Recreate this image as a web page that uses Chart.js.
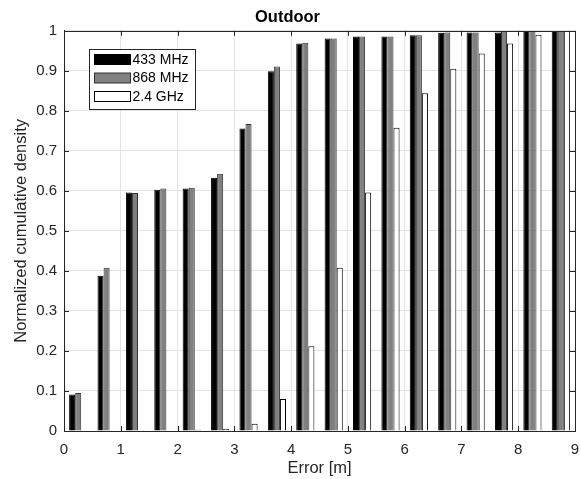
<!DOCTYPE html>
<html>
<head>
<meta charset="utf-8">
<script src="https://cdn.jsdelivr.net/npm/chart.js@4/dist/chart.umd.min.js"></script>
<style>
  html, body { margin: 0; padding: 0; background: #fff; }
  #wrap { width: 581px; height: 479px; }
</style>
</head>
<body>
<div id="wrap"><canvas id="cdfChart" width="581" height="479"></canvas></div>
<script>
// bin centres on the error axis [m]
const errorBins = [0.25, 0.75, 1.25, 1.75, 2.25, 2.75, 3.25, 3.75, 4.25, 4.75, 5.25, 5.75, 6.25, 6.75, 7.25, 7.75, 8.25, 8.75];
const mhz433 = [0.091, 0.388, 0.596, 0.603, 0.606, 0.633, 0.756, 0.899, 0.968, 0.981, 0.986, 0.986, 0.989, 0.995, 0.996, 0.996, 1.0, 1.0];
const mhz868 = [0.095, 0.408, 0.595, 0.606, 0.608, 0.643, 0.767, 0.911, 0.970, 0.981, 0.986, 0.986, 0.989, 0.996, 0.996, 1.0, 1.0, 1.0];
const ghz24 = [0, 0.001, 0.002, 0.002, 0.003, 0.005, 0.018, 0.080, 0.212, 0.408, 0.596, 0.758, 0.844, 0.905, 0.943, 0.968, 0.990, 1.0];
const seriesNames = ['433 MHz', '868 MHz', '2.4 GHz'];
const xTickLabels = ['0', '1', '2', '3', '4', '5', '6', '7', '8', '9'];
const yTickLabels = ['0', '0.1', '0.2', '0.3', '0.4', '0.5', '0.6', '0.7', '0.8', '0.9', '1'];

const FONT = "'Liberation Sans', Arial, Helvetica, sans-serif";
const AXIS_COLOR = '#262626';

function toPoints(values) {
    return values.map((v, i) => ({ x: errorBins[i], y: v }));
}

// box, inward tick marks and the legend, drawn on top like MATLAB does
const matlabAxes = {
    id: 'matlabAxes',
    afterDatasetsDraw(chart) {
        const ctx = chart.ctx;
        const area = chart.chartArea;
        const xs = chart.scales.x;
        const ys = chart.scales.y;
        const tick = 5;
        ctx.save();
        ctx.strokeStyle = AXIS_COLOR;
        ctx.lineWidth = 1;
        ctx.beginPath();
        xs.ticks.forEach(t => {
            const px = Math.round(xs.getPixelForValue(t.value)) + 0.5;
            ctx.moveTo(px, area.bottom); ctx.lineTo(px, area.bottom - tick);
            ctx.moveTo(px, area.top); ctx.lineTo(px, area.top + tick);
        });
        ys.ticks.forEach(t => {
            const py = Math.round(ys.getPixelForValue(t.value)) + 0.5;
            ctx.moveTo(area.left, py); ctx.lineTo(area.left + tick, py);
            ctx.moveTo(area.right, py); ctx.lineTo(area.right - tick, py);
        });
        ctx.stroke();
        ctx.strokeRect(Math.round(area.left) + 0.5, Math.round(area.top) + 0.5,
            Math.round(area.right - area.left), Math.round(area.bottom - area.top));

        // legend
        const lx = Math.round(area.left) + 25.5;
        const ly = Math.round(area.top) + 18.5;
        ctx.fillStyle = '#fff';
        ctx.fillRect(lx, ly, 106, 60);
        ctx.strokeRect(lx, ly, 106, 60);
        ctx.font = '14px ' + FONT;
        ctx.textBaseline = 'middle';
        chart.data.datasets.forEach((ds, i) => {
            const ry = ly + 5 + i * 18.5;
            ctx.fillStyle = ds.backgroundColor;
            ctx.fillRect(lx + 5, ry, 36, 10);
            ctx.strokeStyle = ds.borderColor;
            ctx.strokeRect(lx + 5, ry, 36, 10);
            ctx.fillStyle = '#000';
            ctx.fillText(ds.label, lx + 43, ry + 5.5);
        });
        ctx.restore();
    }
};

const ctx = document.getElementById('cdfChart').getContext('2d');
const cdfChart = new Chart(ctx, {
    type: 'bar',
    data: {
        datasets: [{
            label: seriesNames[0],
            data: toPoints(mhz433),
            backgroundColor: '#000000',
            borderColor: '#000000',
            borderWidth: 1
        }, {
            label: seriesNames[1],
            data: toPoints(mhz868),
            backgroundColor: '#808080',
            borderColor: '#333333',
            borderWidth: 1
        }, {
            label: seriesNames[2],
            data: toPoints(ghz24),
            backgroundColor: '#ffffff',
            borderColor: '#000000',
            borderWidth: 1
        }]
    },
    options: {
        responsive: false,
        animation: false,
        devicePixelRatio: 1,
        categoryPercentage: 0.64,
        barPercentage: 1.0,
        layout: { padding: { right: 6, left: 0, top: 0, bottom: 0 } },
        plugins: {
            legend: { display: false },
            tooltip: { enabled: false },
            title: {
                display: true,
                text: 'Outdoor',
                color: '#000',
                font: { family: FONT, size: 16.5, weight: 'bold' },
                padding: { top: 8, bottom: 3 }
            }
        },
        scales: {
            x: {
                type: 'linear',
                min: 0,
                max: 9,
                offset: false,
                afterFit: s => { s.height = 48; s.paddingLeft = 0; s.paddingRight = 0; },
                ticks: {
                    stepSize: 1,
                    padding: 10,
                    color: '#262626',
                    font: { family: FONT, size: 15 },
                    maxRotation: 0,
                    callback: (v, i) => xTickLabels[i]
                },
                grid: { color: '#e3e3e3', drawTicks: false, offset: false },
                border: { display: true, color: AXIS_COLOR },
                title: {
                    display: true,
                    text: 'Error [m]',
                    color: '#262626',
                    font: { family: FONT, size: 16.5 },
                    padding: { top: 0, bottom: 1 }
                }
            },
            y: {
                min: 0,
                max: 1,
                afterFit: s => { s.width = 64; },
                ticks: {
                    stepSize: 0.1,
                    padding: 7,
                    color: '#262626',
                    font: { family: FONT, size: 15 },
                    callback: (v, i) => yTickLabels[i]
                },
                grid: { color: '#e3e3e3', drawTicks: false },
                border: { display: true, color: AXIS_COLOR },
                title: {
                    display: true,
                    text: 'Normalized cumulative density',
                    color: '#262626',
                    font: { family: FONT, size: 16.5 },
                    padding: { top: 12, bottom: 0 }
                }
            }
        }
    },
    plugins: [matlabAxes]
});
</script>
</body>
</html>
